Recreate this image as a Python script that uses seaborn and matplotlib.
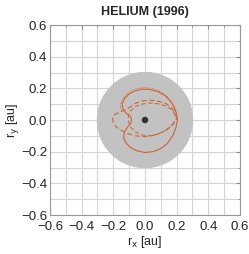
import numpy as np
import pandas as pd
import matplotlib
matplotlib.use("Agg")
import matplotlib.pyplot as plt
import seaborn as sns
from matplotlib.patches import Circle
from matplotlib.ticker import MultipleLocator

# orbit traces (au)
solid_x = [0.205, 0.20, 0.185, 0.16, 0.125, 0.08, 0.03, -0.02, -0.06, -0.10, -0.13,
           -0.145, -0.14, -0.12, -0.095, -0.085, -0.09, -0.11, -0.13, -0.135, -0.12,
           -0.09, -0.05, 0.00, 0.05, 0.10, 0.14, 0.175, 0.195, 0.205]
solid_y = [0.00, 0.04, 0.08, 0.12, 0.155, 0.18, 0.193, 0.195, 0.185, 0.165, 0.135,
           0.10, 0.07, 0.045, 0.025, 0.005, -0.02, -0.045, -0.075, -0.11, -0.145,
           -0.175, -0.195, -0.205, -0.20, -0.18, -0.15, -0.10, -0.05, 0.00]

dotted_x = [0.195, 0.19, 0.17, 0.14, 0.10, 0.05, 0.00, -0.05, -0.095, -0.13, -0.15,
            -0.155, -0.145]
dotted_y = [0.02, 0.06, 0.11, 0.15, 0.18, 0.198, 0.205, 0.20, 0.18, 0.15, 0.115,
            0.08, 0.05]

dash1_x = [0.20, 0.19, 0.165, 0.13, 0.08, 0.03, -0.02, -0.06, -0.09, -0.12, -0.16,
           -0.19, -0.205, -0.20, -0.18, -0.15, -0.11, -0.06, -0.01, 0.04, 0.09,
           0.14, 0.18, 0.20]
dash1_y = [0.01, 0.05, 0.08, 0.105, 0.12, 0.125, 0.12, 0.105, 0.085, 0.065, 0.05,
           0.035, 0.01, -0.02, -0.045, -0.065, -0.085, -0.10, -0.105, -0.10, -0.085,
           -0.06, -0.025, 0.01]

dash2_x = [0.19, 0.17, 0.13, 0.08, 0.03, -0.02, -0.06, -0.09, -0.105, -0.105, -0.09,
           -0.06, -0.02, 0.03, 0.08, 0.13, 0.17, 0.19]
dash2_y = [0.03, 0.065, 0.09, 0.103, 0.107, 0.10, 0.085, 0.06, 0.03, -0.01, -0.045,
           -0.075, -0.095, -0.10, -0.09, -0.065, -0.035, 0.00]

disk_radius = 0.3
ticks = [-0.6, -0.4, -0.2, 0.0, 0.2, 0.4, 0.6]

sns.set_style("white")
plt.rcParams['font.family'] = ['Liberation Sans', 'DejaVu Sans']

fig = plt.figure(figsize=(2.49, 2.54), dpi=100)
ax = fig.add_axes([0.2008, 0.1535, 0.763, 0.748])

orange = '#cf6330'
ax.add_patch(Circle((0, 0), disk_radius, color='#c2c2c2', zorder=1))

line_kw = dict(sort=False, estimator=None, color=orange, ax=ax, zorder=3)
sns.lineplot(x=solid_x, y=solid_y, lw=0.8, **line_kw)
sns.lineplot(x=dotted_x, y=dotted_y, lw=0.7, linestyle=(0, (1, 1.5)), **line_kw)
sns.lineplot(x=dash1_x, y=dash1_y, lw=0.8, linestyle=(0, (4.5, 2.5)), **line_kw)
sns.lineplot(x=dash2_x, y=dash2_y, lw=0.7, linestyle=(0, (4.5, 2.5)), **line_kw)
sns.scatterplot(x=[0.0], y=[0.0], color='#333333', s=22, edgecolor='none', ax=ax, zorder=4)

ax.set_xlim(-0.6, 0.6)
ax.set_ylim(-0.6, 0.6)
ax.set_xticks(ticks)
ax.set_yticks(ticks)
ax.xaxis.set_minor_locator(MultipleLocator(0.1))
ax.yaxis.set_minor_locator(MultipleLocator(0.1))
ax.grid(True, which='both', color='#d4d4d4', lw=0.8, zorder=0)
ax.set_axisbelow(True)
ax.tick_params(which='both', direction='in', top=True, right=True, length=3,
               color='#888888', labelsize=9.5)
ax.tick_params(axis='x', pad=4)
ax.tick_params(axis='y', pad=2)
ax.tick_params(which='minor', length=1.5)
for s in ax.spines.values():
    s.set_color('#999999')
    s.set_linewidth(0.8)

ax.set_xlabel(r'r$_{\mathrm{x}}$ [au]', fontsize=9, labelpad=1)
ax.set_ylabel(r'r$_{\mathrm{y}}$ [au]', fontsize=9, labelpad=0)
ax.set_title('HELIUM (1996)', fontsize=9, fontweight='bold', pad=7)

fig.savefig('out.png', dpi=100)
